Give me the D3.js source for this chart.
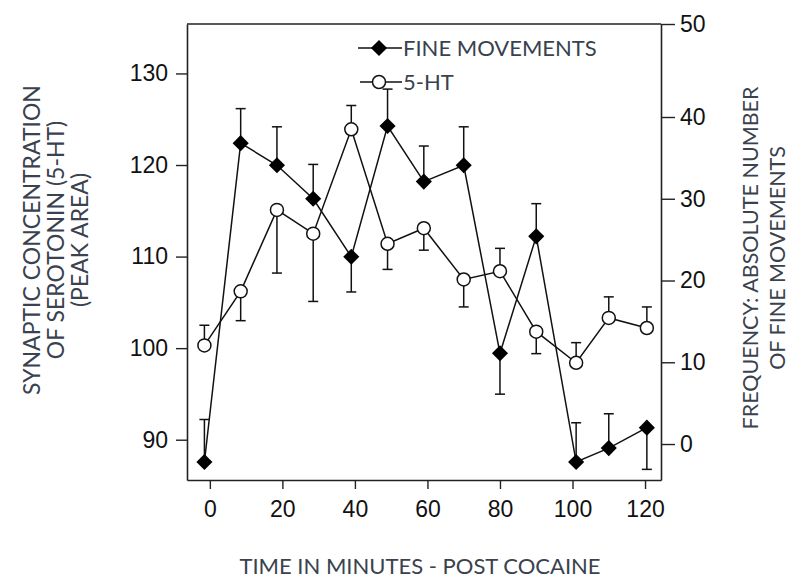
<!DOCTYPE html>
<html lang="en">
<head>
<meta charset="UTF-8">
<title>5-HT and fine movements after cocaine</title>
<script src="https://d3js.org/d3.v7.min.js"></script>
<style>
    body { margin: 0; background: #fff; }
    svg { display: block; }
    .tick text { font-family: "Liberation Sans", Arial, sans-serif; font-size: 23px; fill: #111; }
    .title { font-family: Lato, "Open Sans", sans-serif; font-size: 22px; fill: #39424e; }
</style>
</head>
<body>
<svg width="795" height="580"></svg>
<script>
// time points (minutes post cocaine) as plotted
const times = [-1.5, 8.5, 18.5, 28.5, 39, 49, 59, 70, 80, 90, 101, 110, 120.5];
// 5-HT peak area (left axis), error: + drawn upward, - drawn downward
const serotonin = [100.3, 106.2, 115.1, 112.5, 123.9, 111.4, 113.1, 107.5, 108.4, 101.8, 98.4, 103.3, 102.2];
const serotoninErr = [2.2, -3.2, -6.9, -7.4, 2.6, -2.8, -2.4, -3.0, 2.5, -2.4, 2.2, 2.3, 2.3];
// fine movements count (right axis)
const fineMoves = [-2.2, 36.8, 34.1, 30.0, 22.9, 38.9, 32.1, 34.1, 11.1, 25.4, -2.2, -0.5, 2.0];
const fineErr = [5.2, 4.1, 4.7, 4.2, -4.3, 4.1, 4.35, 4.7, -5.0, 4.0, 4.8, 4.2, -5.1];

const xTicks = [0, 20, 40, 60, 80, 100, 120];
const leftTicks = [90, 100, 110, 120, 130];
const rightTicks = [0, 10, 20, 30, 40, 50];

const svg = d3.select("svg");
const L = 187, R = 661, T = 24, B = 480;

const x = d3.scaleLinear().domain([-6.3, 124.4]).range([L, R]);
const yL = d3.scaleLinear().domain([85.6, 135.4]).range([B, T]);
// right axis in the figure is not evenly spaced above 40
const yR = d3.scaleLinear().domain([-4.4, 40, 50]).range([B, 117, T]);

function styleAxis(g) {
    g.selectAll("path.domain").attr("stroke", "#222").attr("stroke-width", 1.6);
    g.selectAll(".tick line").attr("stroke", "#222").attr("stroke-width", 1.4);
    g.selectAll(".tick text").attr("font-size", null).attr("font-family", null);
}

svg.append("g").attr("transform", `translate(${L},0)`)
    .call(d3.axisLeft(yL).tickValues(leftTicks).tickSize(11).tickSizeOuter(0).tickPadding(8))
    .call(styleAxis);

svg.append("g").attr("transform", `translate(${R},0)`)
    .call(d3.axisRight(yR).tickValues(rightTicks).tickSize(14).tickSizeOuter(0).tickPadding(5))
    .call(styleAxis);

svg.append("g").attr("transform", `translate(0,${B})`)
    .call(d3.axisBottom(x).tickValues(xTicks).tickSize(9).tickSizeOuter(0).tickPadding(12))
    .call(styleAxis);

// top frame line
svg.append("line").attr("x1", L).attr("x2", R).attr("y1", T).attr("y2", T)
    .attr("stroke", "#222").attr("stroke-width", 1.6);

const fineData = times.map((t, i) => ({ t, v: fineMoves[i], e: fineErr[i] }));
const htData = times.map((t, i) => ({ t, v: serotonin[i], e: serotoninErr[i] }));

function drawErr(data, y) {
    const g = svg.append("g").attr("stroke", "#111").attr("stroke-width", 1.5);
    data.forEach(d => {
        const y0 = y(d.v), y1 = y(d.v + d.e), cx = x(d.t);
        g.append("line").attr("x1", cx).attr("x2", cx).attr("y1", y0).attr("y2", y1);
        g.append("line").attr("x1", cx - 5).attr("x2", cx + 5).attr("y1", y1).attr("y2", y1);
    });
}

const lineFine = d3.line().x(d => x(d.t)).y(d => yR(d.v));
const lineHt = d3.line().x(d => x(d.t)).y(d => yL(d.v));

svg.append("path").datum(fineData).attr("d", lineFine)
    .attr("fill", "none").attr("stroke", "#111").attr("stroke-width", 1.5);
svg.append("path").datum(htData).attr("d", lineHt)
    .attr("fill", "none").attr("stroke", "#111").attr("stroke-width", 1.5);

drawErr(htData, yL);
drawErr(fineData, yR);

const diamond = d3.symbol().type(d3.symbolSquare).size(130);

svg.selectAll("circle.ht").data(htData).join("circle")
    .attr("class", "ht")
    .attr("cx", d => x(d.t)).attr("cy", d => yL(d.v)).attr("r", 6.5)
    .attr("fill", "#fff").attr("stroke", "#111").attr("stroke-width", 1.5);

svg.selectAll("path.fine").data(fineData).join("path")
    .attr("class", "fine")
    .attr("d", diamond)
    .attr("transform", d => `translate(${x(d.t)},${yR(d.v)}) rotate(45)`)
    .attr("fill", "#000");

// legend
const leg = svg.append("g");
leg.append("line").attr("x1", 358).attr("x2", 402).attr("y1", 48).attr("y2", 48)
    .attr("stroke", "#111").attr("stroke-width", 1.5);
leg.append("path").attr("d", diamond).attr("transform", "translate(379,48) rotate(45)").attr("fill", "#000");
leg.append("text").attr("class", "title").attr("x", 403).attr("y", 56).text("FINE MOVEMENTS");
leg.append("line").attr("x1", 360).attr("x2", 402).attr("y1", 82).attr("y2", 82)
    .attr("stroke", "#111").attr("stroke-width", 1.5);
leg.append("circle").attr("cx", 379).attr("cy", 82).attr("r", 6.5)
    .attr("fill", "#fff").attr("stroke", "#111").attr("stroke-width", 1.5);
leg.append("text").attr("class", "title").attr("x", 403).attr("y", 90).text("5-HT");

// axis titles
svg.append("text").attr("class", "title").attr("x", 420).attr("y", 574)
    .attr("text-anchor", "middle").text("TIME IN MINUTES - POST COCAINE");

const leftTitle = ["SYNAPTIC CONCENTRATION", "OF SEROTONIN (5-HT)", "(PEAK AREA)"];
leftTitle.forEach((s, i) => {
    svg.append("text").attr("class", "title").style("font-size", "23px")
        .attr("transform", `translate(${40 + i * 24},240) rotate(-90)`)
        .attr("text-anchor", "middle").text(s);
});

const rightTitle = ["FREQUENCY: ABSOLUTE NUMBER", "OF FINE MOVEMENTS"];
rightTitle.forEach((s, i) => {
    svg.append("text").attr("class", "title").style("font-size", "21.5px")
        .attr("transform", `translate(${758 + i * 27},258) rotate(-90)`)
        .attr("text-anchor", "middle").text(s);
});
</script>
</body>
</html>
